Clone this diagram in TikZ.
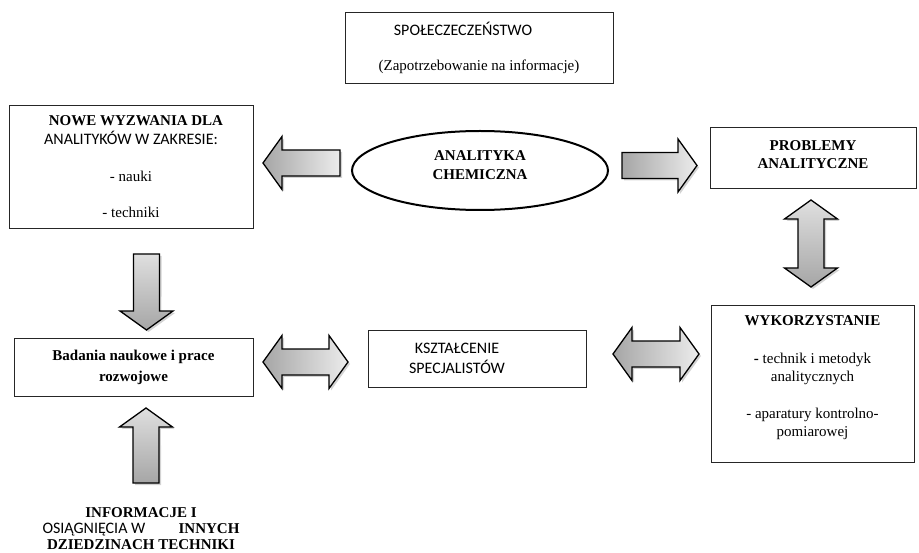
\documentclass[tikz,border=0pt]{standalone}
\usepackage{fontspec}
\setmainfont{Liberation Serif}
\newfontfamily\carlito{Carlito}
\usetikzlibrary{shapes.geometric,shadows,calc}

\newcommand{\sanstext}[1]{{\carlito\fontsize{16}{18}\selectfont #1}}

\tikzset{
  box/.style={draw=black!85, line width=0.9pt, align=center, inner sep=0pt},
  hshade/.style={left color=gray!70, right color=gray!15},
  vshade/.style={top color=gray!25, bottom color=gray!70},
  % block arrow: shaft 26, head 53 wide, head 19 long
  barrow/.style={draw=black, line width=1.3pt, line join=miter,
    drop shadow={shadow xshift=2pt, shadow yshift=-2pt, opacity=0.35},
    to path={($(\tikztostart)!13pt!90:(\tikztotarget)$)
      -- ($(\tikztotarget)!23.02pt!-34.38:(\tikztostart)$)
      -- ($(\tikztotarget)!32.61pt!-54.36:(\tikztostart)$)
      -- (\tikztotarget)
      -- ($(\tikztotarget)!32.61pt!54.36:(\tikztostart)$)
      -- ($(\tikztotarget)!23.02pt!34.38:(\tikztostart)$)
      -- ($(\tikztostart)!13pt!-90:(\tikztotarget)$) -- cycle}},
  dbarrow/.style={draw=black, line width=1.3pt, line join=miter,
    drop shadow={shadow xshift=2pt, shadow yshift=-2pt, opacity=0.35},
    to path={($(\tikztostart)!23.02pt!34.38:(\tikztotarget)$)
      -- ($(\tikztotarget)!23.02pt!-34.38:(\tikztostart)$)
      -- ($(\tikztotarget)!32.61pt!-54.36:(\tikztostart)$)
      -- (\tikztotarget)
      -- ($(\tikztotarget)!32.61pt!54.36:(\tikztostart)$)
      -- ($(\tikztotarget)!23.02pt!34.38:(\tikztostart)$)
      -- ($(\tikztostart)!23.02pt!-34.38:(\tikztotarget)$)
      -- ($(\tikztostart)!32.61pt!-54.36:(\tikztotarget)$)
      -- (\tikztostart)
      -- ($(\tikztostart)!32.61pt!54.36:(\tikztotarget)$) -- cycle}}
}

\begin{document}
\begin{tikzpicture}[x=1pt, y=-1pt, font=\fontsize{15}{18}\selectfont]
\useasboundingbox (0,0) rectangle (919,553);

%\node[style] (name) at (x,y) {text};
\node[box, minimum width=268, minimum height=71] (spol) at (479,47.5)
  {\sanstext{SPOŁECZECZEŃSTWO}\hspace*{32pt}\\[17pt] (Zapotrzebowanie na informacje)};
\node[box, minimum width=244, minimum height=123] (nowe) at (131,166.5)
  {\hspace*{10pt}\textbf{NOWE WYZWANIA DLA}\\[1pt] \sanstext{ANALITYKÓW W ZAKRESIE:}\hspace*{45pt}\\[19pt] - nauki\\[18pt] - techniki};
\node[ellipse, draw, line width=2pt, minimum width=256, minimum height=79, align=center, inner sep=0pt] (ell) at (480,170.5)
  {\textbf{ANALITYKA}\\[1pt] \textbf{CHEMICZNA}\\[-8pt]\mbox{}};
\node[box, minimum width=206, minimum height=61] (prob) at (813,157.5)
  {\textbf{PROBLEMY}\\ \textbf{ANALITYCZNE}\\[-12pt]\mbox{}};
\node[box, minimum width=203, minimum height=157] (wyk) at (812.5,383.5)
  {\textbf{WYKORZYSTANIE}\\[20pt] \textbf{-} technik i metodyk\\ analitycznych\\[19pt] - aparatury kontrolno-\\ pomiarowej\\[-4pt]\mbox{}};
\node[box, minimum width=218, minimum height=57] (ksz) at (477,358.5)
  {\sanstext{KSZTAŁCENIE}\hspace*{40pt}\\[2pt] \sanstext{SPECJALISTÓW}\hspace*{40pt}};
\node[box, minimum width=239, minimum height=58] (bad) at (133.5,367)
  {\textbf{Badania naukowe i prace}\\[3pt] \textbf{rozwojowe}};
\node[align=center, inner sep=0pt, font=\fontsize{15}{16}\selectfont] (info) at (141,529)
  {\textbf{INFORMACJE I}\\ \makebox[197pt]{\sanstext{OSIĄGNIĘCIA W}\hfill\textbf{INNYCH}}\\ \textbf{DZIEDZINACH TECHNIKI}};

% arrow ends
\coordinate (ell-w) at (340,163);
\coordinate (nowe-e) at (263,163);
\coordinate (ell-e) at (622,165.5);
\coordinate (prob-w) at (697,165.5);
\coordinate (prob-s) at (811,200);
\coordinate (wyk-n) at (811,287);
\coordinate (nowe-s) at (146.5,254);
\coordinate (bad-n) at (146.5,330);
\coordinate (info-n) at (146,483);
\coordinate (bad-s) at (146,408);
\coordinate (bad-e) at (263,362);
\coordinate (ksz-w) at (348,362);
\coordinate (ksz-e) at (613,354);
\coordinate (wyk-w) at (699,354);

\draw[barrow, hshade] (ell-w) to (nowe-e);
\draw[barrow, hshade] (ell-e) to (prob-w);
\draw[dbarrow, vshade] (prob-s) to (wyk-n);
\draw[barrow, vshade] (nowe-s) to (bad-n);
\draw[barrow, vshade] (info-n) to (bad-s);
\draw[dbarrow, hshade] (bad-e) to (ksz-w);
\draw[dbarrow, hshade] (ksz-e) to (wyk-w);
\end{tikzpicture}
\end{document}
